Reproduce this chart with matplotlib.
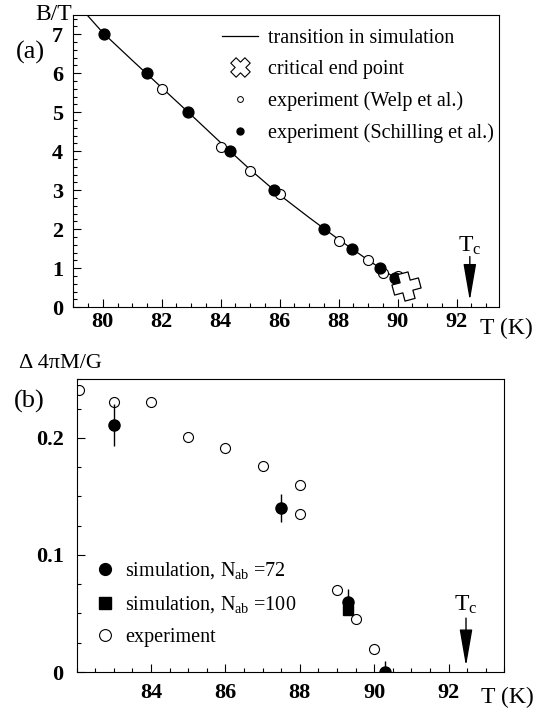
import matplotlib
matplotlib.use("Agg")
import matplotlib.pyplot as plt
import numpy as np
from matplotlib.path import Path
from matplotlib.transforms import Affine2D
from matplotlib.lines import Line2D
from matplotlib.ticker import MultipleLocator, FixedLocator, FuncFormatter

plt.rcParams['font.family'] = ['Liberation Serif', 'DejaVu Serif']
plt.rcParams['mathtext.fontset'] = 'custom'
plt.rcParams['mathtext.rm'] = 'Liberation Serif'
plt.rcParams['mathtext.it'] = 'Liberation Serif:italic'

# ---- panel (a): B-T phase diagram ----
T_line = [79.4, 80.0, 81.0, 82.0, 83.0, 84.0, 85.0, 86.0, 87.0, 88.0, 89.0, 89.9]
B_line = [7.55, 7.04, 6.33, 5.63, 4.93, 4.22, 3.53, 2.88, 2.30, 1.74, 1.21, 0.76]

T_welp = [82.0, 84.0, 85.0, 86.0, 88.0, 89.0, 89.5, 90.0]
B_welp = [5.6, 4.1, 3.5, 2.9, 1.7, 1.2, 0.88, 0.8]

T_schilling = [80.05, 81.5, 82.9, 84.3, 85.8, 87.5, 88.45, 89.4, 89.9]
B_schilling = [7.0, 6.0, 5.0, 4.0, 3.0, 2.0, 1.5, 1.0, 0.75]

T_cep = [90.3]
B_cep = [0.55]

Tc = 92.45

# ---- panel (b): magnetization jump ----
T_exp = [82.05, 83.0, 84.0, 85.0, 86.0, 87.0, 88.0, 88.0, 89.0, 89.5, 90.0]
M_exp = [0.241, 0.231, 0.231, 0.201, 0.191, 0.176, 0.160, 0.135, 0.070, 0.045, 0.020]

T_sim72 = [83.0, 87.5, 89.3, 90.3]
M_sim72 = [0.211, 0.140, 0.060, 0.0]
E_sim72 = [0.018, 0.012, 0.011, 0.0095]

T_sim100 = [89.3]
M_sim100 = [0.053]

W, H = 545, 710


def px(x, y):
    return x / W, 1 - y / H


def plus_marker(angle, arm=0.38):
    verts = [(-arm, 1), (arm, 1), (arm, arm), (1, arm), (1, -arm), (arm, -arm),
             (arm, -1), (-arm, -1), (-arm, -arm), (-1, -arm), (-1, arm), (-arm, arm),
             (-arm, 1)]
    codes = [Path.MOVETO] + [Path.LINETO] * 11 + [Path.CLOSEPOLY]
    p = Path(verts, codes)
    return p.transformed(Affine2D().rotate_deg(angle))


def style_axis(ax, xmaj, xmin, ymaj, ymin, xpad, ypad):
    ax.xaxis.set_major_locator(FixedLocator(xmaj))
    ax.xaxis.set_minor_locator(MultipleLocator(xmin))
    ax.yaxis.set_major_locator(FixedLocator(ymaj))
    ax.yaxis.set_minor_locator(MultipleLocator(ymin))
    ax.tick_params(which='both', direction='in', top=False, right=False, width=0.8)
    ax.tick_params(which='major', length=5.8)
    ax.tick_params(which='minor', length=2.9)
    ax.tick_params(axis='x', pad=xpad)
    ax.tick_params(axis='y', pad=ypad)
    for lab in ax.get_xticklabels() + ax.get_yticklabels():
        lab.set_fontweight('bold')
        lab.set_fontsize(16)
    for s in ax.spines.values():
        s.set_linewidth(0.8)


arrow_style = dict(arrowstyle='-|>,head_length=1.15,head_width=0.2',
                   mutation_scale=20, color='black', lw=1, shrinkA=0, shrinkB=0)

fig = plt.figure(figsize=(W / 100, H / 100), dpi=100)

# panel (a)
ax1 = fig.add_axes([73.3 / W, 1 - 307.3 / H, 426 / W, 292.6 / H])
ax1.plot(T_line, B_line, color='black', lw=0.9)
ax1.plot(T_welp, B_welp, 'o', ms=7.2, mfc='white', mec='black', mew=0.8)
ax1.plot(T_schilling, B_schilling, 'o', ms=7.8, color='black')
ax1.plot(T_cep, B_cep, linestyle='none', marker=plus_marker(15), ms=21,
         mfc='white', mec='black', mew=0.9)
ax1.annotate('', xy=(Tc, 0.17), xytext=(Tc, 1.3), arrowprops=arrow_style)
ax1.text(Tc, 1.42, r'T$_\mathrm{c}$', ha='center', va='baseline', fontsize=17)
ax1.set_xlim(79.0, 93.45)
ax1.set_ylim(0, 7.5)
style_axis(ax1, [80, 82, 84, 86, 88, 90, 92], 0.5, range(0, 8), 0.2, 3.5, 7.5)
ax1.yaxis.set_major_formatter(FuncFormatter(lambda v, p: '%d' % v))

h_a = [
    Line2D([], [], color='black', lw=0.9),
    Line2D([], [], linestyle='none', marker=plus_marker(45), ms=14,
           mfc='white', mec='black', mew=0.8),
    Line2D([], [], linestyle='none', marker='o', ms=4.2, mfc='white', mec='black', mew=0.7),
    Line2D([], [], linestyle='none', marker='o', ms=5, color='black'),
]
l_a = ['transition in simulation', 'critical end point',
       'experiment (Welp et al.)', 'experiment (Schilling et al.)']
ax1.legend(h_a, l_a, loc='upper left', bbox_to_anchor=(0.349, 0.951),
           frameon=False, fontsize=14.5, handlelength=1.8, handletextpad=0.5,
           labelspacing=0.6, borderpad=0, borderaxespad=0, numpoints=1)

fig.text(*px(72, 4), 'B/T', ha='right', va='top', fontsize=17)
fig.text(*px(30, 52), '(a)', ha='center', va='center', fontsize=19)
fig.text(*px(506, 328), 'T (K)', ha='center', va='center', fontsize=17)

# panel (b)
ax2 = fig.add_axes([76.7 / W, 1 - 672 / H, 427.6 / W, 292.7 / H])
ax2.plot(T_exp, M_exp, 'o', ms=7.2, mfc='white', mec='black', mew=0.8)
ax2.errorbar(T_sim72, M_sim72, yerr=E_sim72, fmt='o', ms=8, color='black',
             ecolor='black', elinewidth=1, capsize=0)
ax2.plot(T_sim100, M_sim100, 's', ms=7.5, color='black')
ax2.annotate('', xy=(92.47, 0.005), xytext=(92.47, 0.046), arrowprops=arrow_style)
ax2.text(92.47, 0.0525, r'T$_\mathrm{c}$', ha='center', va='baseline', fontsize=17)
ax2.set_xlim(82.0, 93.5)
ax2.set_ylim(0, 0.25)
style_axis(ax2, [84, 86, 88, 90, 92], 0.5, [0, 0.1, 0.2], 0.025, 8, 9.5)
ax2.yaxis.set_major_formatter(FuncFormatter(lambda v, p: '%g' % round(v, 3)))

h_b = [
    Line2D([], [], linestyle='none', marker='o', ms=8.5, color='black'),
    Line2D([], [], linestyle='none', marker='s', ms=8, color='black'),
    Line2D([], [], linestyle='none', marker='o', ms=8.5, mfc='white', mec='black', mew=0.8),
]
l_b = [r'simulation, N$_{\mathrm{ab}}$ =72', r'simulation, N$_{\mathrm{ab}}$ =100',
       'experiment']
ax2.legend(h_b, l_b, loc='upper left', bbox_to_anchor=(0.043, 0.382),
           frameon=False, fontsize=14.5, handlelength=1.0, handletextpad=0.5,
           labelspacing=0.65, borderpad=0, borderaxespad=0, numpoints=1)

fig.text(*px(60, 364), 'Δ 4πM/G', ha='center', va='center', fontsize=16)
fig.text(*px(29, 401), '(b)', ha='center', va='center', fontsize=19)
fig.text(*px(507, 697), 'T (K)', ha='center', va='center', fontsize=17)

fig.savefig('out.png', dpi=100)
